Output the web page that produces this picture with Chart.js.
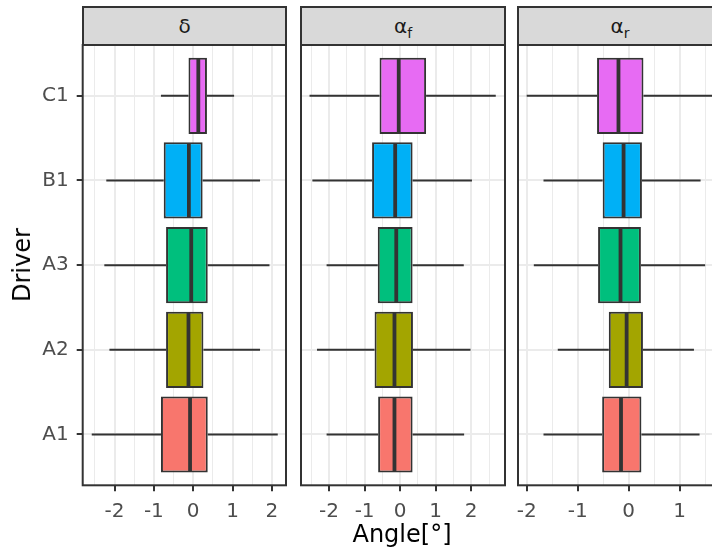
<!DOCTYPE html>
<html>
<head>
<meta charset="utf-8">
<script src="https://cdn.jsdelivr.net/npm/chart.js@4.4.1/dist/chart.umd.min.js"></script>
<style>
  html, body { margin: 0; padding: 0; background: #fff; }
  body { width: 712px; height: 553px; overflow: hidden; position: relative; font-family: "DejaVu Sans", sans-serif; }
  canvas { position: absolute; top: 44px; }
  .strip {
    position: absolute; top: 6px; height: 40px; box-sizing: border-box;
    background: #D9D9D9; border: 2px solid #333;
    display: flex; align-items: center; justify-content: center;
    font-size: 20px; color: #1A1A1A;
  }
  .strip span { display: inline-block; line-height: 1; }
  .strip sub { font-size: 14px; vertical-align: -5px; line-height: 0; }
  .title { position: absolute; font-size: 24px; color: #000; white-space: nowrap; }
</style>
</head>
<body>
<div class="strip" style="left:82px;width:205px"><span>δ</span></div>
<div class="strip" style="left:300px;width:206px"><span>α<sub>f</sub></span></div>
<div class="strip" style="left:517px;width:206px"><span>α<sub>r</sub></span></div>

<canvas id="p1" width="287" height="509" style="left:0px"></canvas>
<canvas id="p2" width="206" height="509" style="left:299.7px"></canvas>
<canvas id="p3" width="206" height="509" style="left:517.3px"></canvas>

<div class="title" style="left:22px;top:265px;transform:translate(-50%,-50%) rotate(-90deg)">Driver</div>
<div class="title" style="left:402px;top:534px;transform:translate(-50%,-50%)">Angle[°]</div>

<script>
const drivers = ['A1', 'A2', 'A3', 'B1', 'C1'];
const fills = ['#F8766D', '#A3A500', '#00BF7D', '#00B0F6', '#E76BF3'];

// per driver (A1..C1): [lower whisker, Q1, median, Q3, upper whisker]
const deltaBox = [
  [-2.58, -0.82, -0.08, 0.37, 2.15],
  [-2.13, -0.69, -0.12, 0.26, 1.70],
  [-2.26, -0.69, -0.05, 0.37, 1.94],
  [-2.21, -0.75, -0.11, 0.24, 1.70],
  [-0.82, -0.12, 0.13, 0.35, 1.04]
];
const alphaFBox = [
  [-2.07, -0.62, -0.16, 0.35, 1.80],
  [-2.34, -0.72, -0.16, 0.36, 1.98],
  [-2.07, -0.63, -0.11, 0.35, 1.79],
  [-2.47, -0.79, -0.14, 0.35, 2.02],
  [-2.55, -0.58, -0.04, 0.73, 2.69]
];
const alphaRBox = [
  [-1.67, -0.52, -0.15, 0.25, 1.39],
  [-1.39, -0.39, -0.04, 0.28, 1.28],
  [-1.86, -0.60, -0.16, 0.24, 1.50],
  [-1.67, -0.51, -0.10, 0.26, 1.41],
  [-2.00, -0.62, -0.20, 0.29, 1.64]
];

// x ticks (minor at .5, labels only on whole numbers) and panel limits
const deltaTicks = [-2.5, -2, -1.5, -1, -0.5, 0, 0.5, 1, 1.5, 2];
const alphaFTicks = [-2.5, -2, -1.5, -1, -0.5, 0, 0.5, 1, 1.5, 2, 2.5];
const alphaRTicks = [-2, -1.5, -1, -0.5, 0, 0.5, 1, 1.5];
const deltaRange = [-2.81, 2.36];
const alphaFRange = [-2.79, 2.95];
const alphaRRange = [-2.17, 1.83];

const dark = '#333333';
const gridCol = '#EBEBEB';
const font = { family: 'DejaVu Sans', size: 20 };

// whiskers, medians and the panel frame, drawn from the chart's scales
function boxParts(stats) {
  return {
    id: 'boxParts',
    beforeDatasetsDraw(chart) {
      const { ctx, scales: { x, y } } = chart;
      ctx.save();
      ctx.strokeStyle = dark;
      ctx.lineWidth = 2;
      stats.forEach((s, i) => {
        const py = y.getPixelForValue(i + 1);
        ctx.beginPath();
        ctx.moveTo(x.getPixelForValue(s[0]), py);
        ctx.lineTo(x.getPixelForValue(s[1]), py);
        ctx.moveTo(x.getPixelForValue(s[3]), py);
        ctx.lineTo(x.getPixelForValue(s[4]), py);
        ctx.stroke();
      });
      ctx.restore();
    },
    afterDatasetsDraw(chart) {
      const { ctx, scales: { x } } = chart;
      const meta = chart.getDatasetMeta(0);
      ctx.save();
      ctx.strokeStyle = dark;
      ctx.lineWidth = 3.8;
      stats.forEach((s, i) => {
        const bar = meta.data[i];
        const px = x.getPixelForValue(s[2]);
        ctx.beginPath();
        ctx.moveTo(px, bar.y - bar.height / 2 + 1);
        ctx.lineTo(px, bar.y + bar.height / 2 - 1);
        ctx.stroke();
      });
      ctx.restore();
    },
    afterDraw(chart) {
      const { ctx, chartArea: a } = chart;
      ctx.save();
      ctx.strokeStyle = dark;
      ctx.lineWidth = 2;
      ctx.strokeRect(a.left, a.top, a.right - a.left, a.bottom - a.top);
      ctx.restore();
    }
  };
}

function makePanel(id, stats, ticks, range, showY, padLeft) {
  new Chart(document.getElementById(id), {
    type: 'bar',
    data: {
      datasets: [{
        data: stats.map((s, i) => ({ x: [s[1], s[3]], y: i + 1 })),
        backgroundColor: fills,
        borderColor: dark,
        borderWidth: 2,
        borderSkipped: false,
        barPercentage: 0.9,
        categoryPercentage: 1
      }]
    },
    options: {
      indexAxis: 'y',
      responsive: false,
      animation: false,
      devicePixelRatio: 1,
      layout: { padding: { top: 1, left: padLeft, right: 1, bottom: 0 } },
      plugins: { legend: { display: false }, tooltip: { enabled: false } },
      scales: {
        x: {
          type: 'linear',
          min: range[0],
          max: range[1],
          afterBuildTicks: s => { s.ticks = ticks.map(v => ({ value: v })); },
          afterFit: s => { s.height = 67.7; s.paddingLeft = 0; s.paddingRight = 0; },
          border: { display: false },
          grid: {
            color: gridCol,
            lineWidth: c => (c.tick && Number.isInteger(c.tick.value) ? 2 : 1),
            tickColor: c => (c.tick && Number.isInteger(c.tick.value) ? dark : 'rgba(0,0,0,0)'),
            tickWidth: 2,
            tickLength: 6
          },
          ticks: {
            autoSkip: false,
            maxRotation: 0,
            padding: 8,
            color: '#4D4D4D',
            font,
            callback: v => (Number.isInteger(v) ? String(v) : '')
          }
        },
        y: {
          type: 'linear',
          min: 0.4,
          max: 5.6,
          offset: false,
          afterBuildTicks: s => { s.ticks = drivers.map((d, i) => ({ value: i + 1 })); },
          afterFit: s => { s.width = showY ? 82.7 : 0; s.paddingTop = 0; s.paddingBottom = 0; },
          border: { display: false },
          grid: {
            offset: false,
            color: gridCol,
            lineWidth: 2,
            drawTicks: showY,
            tickColor: dark,
            tickWidth: 2,
            tickLength: 6
          },
          ticks: {
            display: showY,
            padding: 8,
            color: '#4D4D4D',
            font,
            callback: v => drivers[v - 1]
          }
        }
      }
    },
    plugins: [boxParts(stats)]
  });
}

makePanel('p1', deltaBox, deltaTicks, deltaRange, true, 0);
makePanel('p2', alphaFBox, alphaFTicks, alphaFRange, false, 1);
makePanel('p3', alphaRBox, alphaRTicks, alphaRRange, false, 1);
</script>
</body>
</html>
